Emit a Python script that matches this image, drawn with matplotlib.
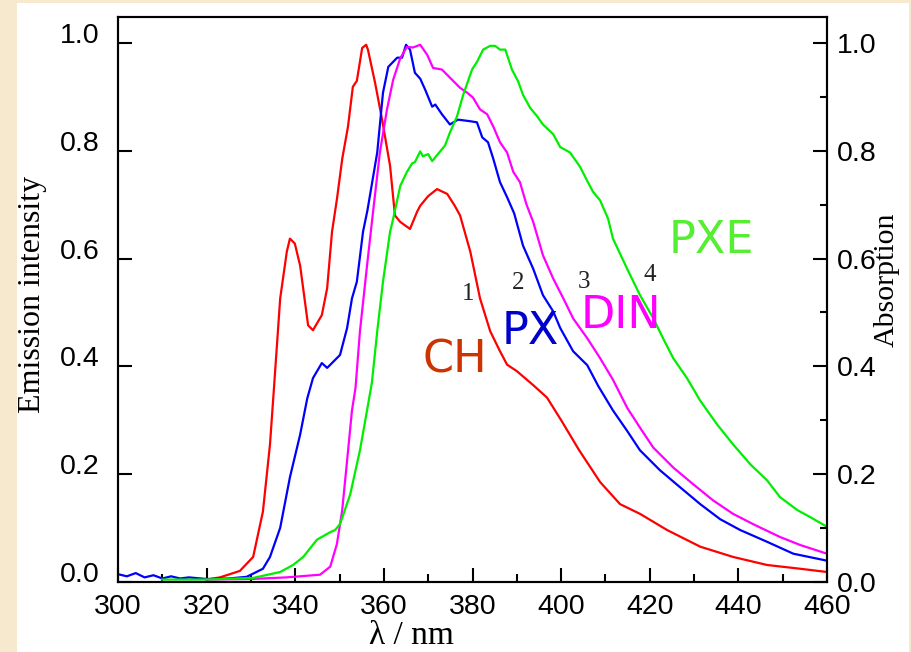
import matplotlib
matplotlib.use('Agg')
import matplotlib.pyplot as plt
import matplotlib.transforms as mtransforms
from matplotlib.patches import Rectangle
from matplotlib.ticker import MultipleLocator

# CH (curve 1)
ch_x = [320, 323, 327.5, 330.5, 332.7, 334.3, 335.2, 336.6, 338.1, 338.8, 339.9, 341.1, 342.9, 344, 346,
        347.2, 348.3, 349.4, 350.6, 351.9, 353, 353.9, 355.1, 356, 356.4, 358, 359.6, 361.4, 362.5, 363.7,
        365.9, 367.5, 368.2, 370, 372, 374.3, 376, 377.2, 379.5, 381.7, 384, 386.2, 387.8, 390, 393.7,
        396.8, 400, 404, 408.8, 413.3, 417.8, 423.9, 431.4, 438.8, 446.5, 454, 460]
ch_y = [0.004, 0.008, 0.02, 0.046, 0.13, 0.255, 0.36, 0.526, 0.613, 0.637, 0.628, 0.587, 0.476, 0.467, 0.495,
        0.545, 0.65, 0.71, 0.785, 0.845, 0.919, 0.93, 0.991, 0.997, 0.988, 0.927, 0.858, 0.772, 0.68, 0.668,
        0.655, 0.687, 0.698, 0.716, 0.729, 0.72, 0.698, 0.68, 0.613, 0.526, 0.465, 0.428, 0.403, 0.391, 0.365,
        0.342, 0.30, 0.245, 0.185, 0.144, 0.126, 0.096, 0.065, 0.046, 0.031, 0.024, 0.018]

# PX (curve 2)
px_x = [300, 302, 304, 306, 308, 310, 312, 314, 316, 320, 325, 329, 330.5, 332.7, 334.3, 336.6, 338.8, 341.1,
        342.7, 344, 346, 347.2, 350.1, 351.7, 352.8, 353.9, 355.3, 356.3, 358.5, 359.8, 361, 363, 364.1, 365,
        365.9, 367, 368.2, 369.3, 370.9, 371.6, 373.1, 374.9, 376.7, 379.5, 381, 382.2, 383.5, 384.7, 386.2,
        387.8, 389.4, 391.4, 393.7, 395.9, 398.2, 399.8, 402.7, 405.9, 408.4, 411.7, 414.9, 417.8, 422.3,
        426.9, 431.4, 435.9, 440.4, 446.5, 452.4, 460]
px_y = [0.014, 0.01, 0.016, 0.008, 0.012, 0.006, 0.01, 0.006, 0.008, 0.005, 0.006, 0.009, 0.015, 0.024, 0.046,
        0.1, 0.194, 0.273, 0.34, 0.378, 0.406, 0.397, 0.421, 0.471, 0.526, 0.557, 0.65, 0.69, 0.797, 0.908,
        0.956, 0.973, 0.973, 0.997, 0.988, 0.945, 0.934, 0.914, 0.882, 0.886, 0.868, 0.849, 0.858, 0.855,
        0.853, 0.825, 0.816, 0.785, 0.742, 0.714, 0.684, 0.624, 0.581, 0.532, 0.502, 0.471, 0.428, 0.402,
        0.363, 0.318, 0.28, 0.244, 0.207, 0.175, 0.144, 0.116, 0.096, 0.074, 0.052, 0.039]

# DIN (curve 3)
din_x = [320, 330, 338, 345.6, 347.9, 349.4, 350.6, 351.7, 352.8, 353.6, 354.6, 356.2, 357.6, 359.1, 360.7,
         362.1, 363.7, 365.2, 366.6, 368.2, 369.8, 371.1, 373.1, 374.9, 377.2, 378.8, 380.1, 381.7, 383.3,
         384.7, 386.2, 387.8, 389.2, 390.7, 392.2, 393.7, 395.9, 398.2, 400.5, 402.7, 405.9, 408.8, 411.7,
         414.9, 417.8, 420.8, 425.3, 429.8, 434.3, 438.8, 443.3, 449.4, 454, 460]
din_y = [0.004, 0.005, 0.008, 0.013, 0.028, 0.07, 0.133, 0.225, 0.318, 0.36, 0.465, 0.587, 0.69, 0.797, 0.877,
         0.932, 0.972, 0.993, 0.992, 0.997, 0.978, 0.954, 0.951, 0.936, 0.917, 0.908, 0.899, 0.877, 0.868,
         0.845, 0.816, 0.797, 0.761, 0.742, 0.70, 0.668, 0.606, 0.563, 0.526, 0.489, 0.452, 0.415, 0.375,
         0.323, 0.286, 0.249, 0.212, 0.181, 0.151, 0.126, 0.107, 0.083, 0.068, 0.052]

# PXE (curve 4)
pxe_x = [310, 320, 330.5, 336.6, 339.5, 341.8, 344.9, 347.9, 349, 350.1, 352.4, 354.6, 356.2, 357.3, 358.5,
         359.8, 361.4, 362.1, 363.7, 365.2, 366.4, 367, 368.2, 368.8, 370, 370.9, 372.2, 373.8, 374.9, 376.5,
         377.9, 379.9, 381, 382.4, 384, 385.1, 386.2, 387.4, 388.9, 390.3, 391.4, 393, 394.6, 395.9, 398.2,
         399.8, 402, 404.3, 405.9, 407.2, 408.8, 410.6, 411.7, 414.9, 417.8, 420.8, 423, 425.3, 428.4, 431.4,
         435.2, 438.8, 442.7, 446.5, 449.4, 453.3, 456.2, 460]
pxe_y = [0.004, 0.004, 0.007, 0.018, 0.031, 0.046, 0.078, 0.092, 0.096, 0.107, 0.162, 0.244, 0.318, 0.37, 0.465,
         0.557, 0.65, 0.674, 0.735, 0.761, 0.777, 0.779, 0.799, 0.79, 0.794, 0.781, 0.794, 0.81, 0.834, 0.864,
         0.904, 0.951, 0.965, 0.988, 0.995, 0.995, 0.988, 0.988, 0.951, 0.929, 0.904, 0.88, 0.864, 0.849, 0.831,
         0.807, 0.797, 0.77, 0.744, 0.724, 0.708, 0.674, 0.637, 0.581, 0.532, 0.489, 0.452, 0.415, 0.378, 0.336,
         0.292, 0.255, 0.218, 0.188, 0.157, 0.133, 0.12, 0.102]

names = ['CH', 'PX', 'DIN', 'PXE']
curve_nums = ['1', '2', '3', '4']
xticks = [300, 320, 340, 360, 380, 400, 420, 440, 460]
yticks = [0.0, 0.2, 0.4, 0.6, 0.8, 1.0]

fig = plt.figure(figsize=(9.12, 6.52), dpi=100, facecolor='#f6e9cd')
fig.patches.append(Rectangle((17 / 912, 0), 892 / 912, 649 / 652, transform=fig.transFigure,
                             facecolor='white', edgecolor='none', zorder=-10))
ax = fig.add_axes([118 / 912, 1 - 581.7 / 652, 709 / 912, 564.4 / 652])
ax.set_facecolor('white')

ax.plot(ch_x, ch_y, color='#ff0000', lw=1.6)
ax.plot(px_x, px_y, color='#0000ff', lw=1.6)
ax.plot(din_x, din_y, color='#ff00ff', lw=1.6)
ax.plot(pxe_x, pxe_y, color='#00ee00', lw=1.6)

ax.set_xlim(300, 460)
ax.set_ylim(0.006, 1.048)
ax.set_xticks(xticks)
ax.xaxis.set_minor_locator(MultipleLocator(10))
ax.set_yticks(yticks)
ax.set_yticklabels(['%.1f' % v for v in yticks])
ax.tick_params(axis='both', which='major', direction='in', length=10, width=1.5,
               labelsize=20.5, top=False, right=False)
ax.tick_params(axis='x', which='major', pad=9)
ax.tick_params(axis='y', which='major', pad=13)
ax.tick_params(axis='x', which='minor', direction='in', length=6, width=1.5, top=False)
for sp in ax.spines.values():
    sp.set_linewidth(1.5)
for lab in ax.get_xticklabels() + ax.get_yticklabels():
    lab.set_fontfamily('Liberation Sans')
# left labels sit a little above their ticks
offset = mtransforms.ScaledTranslation(0, 0.1, fig.dpi_scale_trans)
for lab in ax.get_yticklabels():
    lab.set_transform(lab.get_transform() + offset)

ax2 = ax.twinx()
ax2.set_ylim(ax.get_ylim())
ax2.set_yticks(yticks)
ax2.set_yticklabels(['%.1f' % v for v in yticks])
ax2.yaxis.set_minor_locator(MultipleLocator(0.1))
ax2.tick_params(axis='y', which='major', direction='in', length=10, width=1.5, labelsize=20.5, pad=7)
ax2.tick_params(axis='y', which='minor', direction='in', length=5, width=1.5)
for sp in ax2.spines.values():
    sp.set_linewidth(1.5)
for lab in ax2.get_yticklabels():
    lab.set_fontfamily('Liberation Sans')

fig.text(33 / 912, 1 - 294 / 652, 'Emission intensity', rotation=90, ha='center', va='center',
         fontsize=23, family='Liberation Serif')
fig.text(887 / 912, 1 - 280 / 652, 'Absorption', rotation=90, ha='center', va='center',
         fontsize=21.5, family='Liberation Serif')
fig.text(411 / 912, 1 - 636 / 652, 'λ / nm', ha='center', va='center',
         fontsize=24, family='Liberation Serif')

# series names and curve numbers
ax.text(376.1, 0.411, names[0], color='#cc3300', fontsize=32, ha='center', va='center')
ax.text(393.0, 0.465, names[1], color='#0000cc', fontsize=32, ha='center', va='center')
ax.text(413.5, 0.494, names[2], color='#ff00ff', fontsize=32, ha='center', va='center')
ax.text(433.9, 0.634, names[3], color='#55ee33', fontsize=32, ha='center', va='center')
num_pos = [(379.0, 0.535), (390.3, 0.554), (405.2, 0.556), (419.9, 0.569)]
for n, (xx, yy) in zip(curve_nums, num_pos):
    ax.text(xx, yy, n, color='#222222', fontsize=18, ha='center', va='center', family='Liberation Serif')

fig.savefig('out.png', dpi=100, facecolor=fig.get_facecolor())
